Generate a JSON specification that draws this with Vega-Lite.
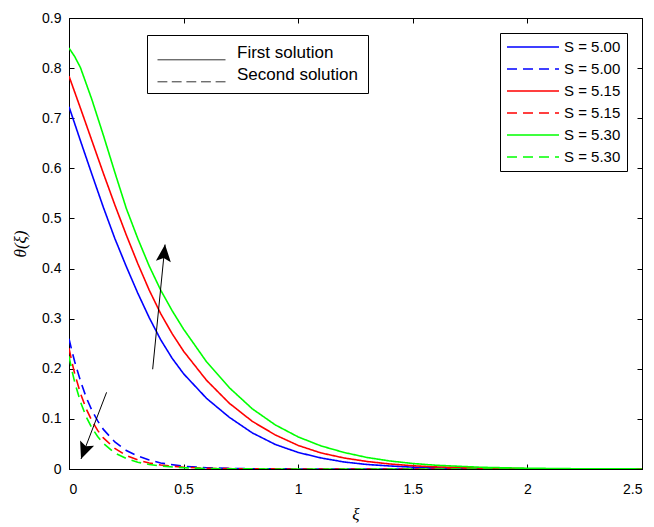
{
  "$schema": "https://vega.github.io/schema/vega-lite/v6.json",
  "width": 573,
  "height": 451,
  "autosize": {"type": "none"},
  "padding": {"left": 69, "top": 18, "right": 12, "bottom": 58},
  "background": "white",
  "config": {
    "view": {"stroke": "black", "strokeWidth": 1},
    "axis": {
      "domainColor": "black", "domainWidth": 1, "tickColor": "black", "tickWidth": 1, "tickSize": -5,
      "grid": false, "labelFont": "Liberation Sans", "labelFontSize": 14, "labelColor": "black",
      "titleFont": "Liberation Serif", "titleFontStyle": "italic", "titleFontWeight": "normal",
      "titleFontSize": 17, "titleColor": "black"
    }
  },
  "datasets": {
    "curves": [
      {"x":0,"y":0.723,"s":"S = 5.00 a"},{"x":0.05,"y":0.655,"s":"S = 5.00 a"},{"x":0.1,"y":0.588,"s":"S = 5.00 a"},{"x":0.15,"y":0.522,"s":"S = 5.00 a"},{"x":0.2,"y":0.46,"s":"S = 5.00 a"},{"x":0.25,"y":0.404,"s":"S = 5.00 a"},{"x":0.3,"y":0.351,"s":"S = 5.00 a"},{"x":0.35,"y":0.302,"s":"S = 5.00 a"},{"x":0.4,"y":0.258,"s":"S = 5.00 a"},{"x":0.45,"y":0.221,"s":"S = 5.00 a"},{"x":0.5,"y":0.19,"s":"S = 5.00 a"},{"x":0.6,"y":0.141,"s":"S = 5.00 a"},{"x":0.7,"y":0.103,"s":"S = 5.00 a"},{"x":0.8,"y":0.072,"s":"S = 5.00 a"},{"x":0.9,"y":0.049,"s":"S = 5.00 a"},{"x":1.0,"y":0.033,"s":"S = 5.00 a"},{"x":1.1,"y":0.022,"s":"S = 5.00 a"},{"x":1.2,"y":0.014,"s":"S = 5.00 a"},{"x":1.3,"y":0.009,"s":"S = 5.00 a"},{"x":1.4,"y":0.006,"s":"S = 5.00 a"},{"x":1.5,"y":0.0037,"s":"S = 5.00 a"},{"x":1.6,"y":0.0023,"s":"S = 5.00 a"},{"x":1.8,"y":0.0009,"s":"S = 5.00 a"},{"x":2.0,"y":0.0003,"s":"S = 5.00 a"},{"x":2.2,"y":0.0001,"s":"S = 5.00 a"},{"x":2.5,"y":0,"s":"S = 5.00 a"},
      {"x":0,"y":0.26,"s":"S = 5.00 b"},{"x":0.0125,"y":0.236,"s":"S = 5.00 b"},{"x":0.025,"y":0.214,"s":"S = 5.00 b"},{"x":0.05,"y":0.176,"s":"S = 5.00 b"},{"x":0.075,"y":0.143,"s":"S = 5.00 b"},{"x":0.1,"y":0.117,"s":"S = 5.00 b"},{"x":0.125,"y":0.096,"s":"S = 5.00 b"},{"x":0.15,"y":0.079,"s":"S = 5.00 b"},{"x":0.2,"y":0.054,"s":"S = 5.00 b"},{"x":0.25,"y":0.037,"s":"S = 5.00 b"},{"x":0.3,"y":0.026,"s":"S = 5.00 b"},{"x":0.35,"y":0.018,"s":"S = 5.00 b"},{"x":0.4,"y":0.012,"s":"S = 5.00 b"},{"x":0.5,"y":0.0055,"s":"S = 5.00 b"},{"x":0.6,"y":0.0026,"s":"S = 5.00 b"},{"x":0.7,"y":0.0012,"s":"S = 5.00 b"},{"x":0.8,"y":0.0006,"s":"S = 5.00 b"},{"x":1.0,"y":0.0001,"s":"S = 5.00 b"},{"x":1.5,"y":0,"s":"S = 5.00 b"},{"x":2.0,"y":0,"s":"S = 5.00 b"},{"x":2.5,"y":0,"s":"S = 5.00 b"},
      {"x":0,"y":0.784,"s":"S = 5.15 a"},{"x":0.05,"y":0.72,"s":"S = 5.15 a"},{"x":0.1,"y":0.655,"s":"S = 5.15 a"},{"x":0.15,"y":0.59,"s":"S = 5.15 a"},{"x":0.2,"y":0.527,"s":"S = 5.15 a"},{"x":0.25,"y":0.467,"s":"S = 5.15 a"},{"x":0.3,"y":0.41,"s":"S = 5.15 a"},{"x":0.35,"y":0.357,"s":"S = 5.15 a"},{"x":0.4,"y":0.31,"s":"S = 5.15 a"},{"x":0.45,"y":0.27,"s":"S = 5.15 a"},{"x":0.5,"y":0.235,"s":"S = 5.15 a"},{"x":0.6,"y":0.177,"s":"S = 5.15 a"},{"x":0.7,"y":0.131,"s":"S = 5.15 a"},{"x":0.8,"y":0.095,"s":"S = 5.15 a"},{"x":0.9,"y":0.068,"s":"S = 5.15 a"},{"x":1.0,"y":0.047,"s":"S = 5.15 a"},{"x":1.1,"y":0.032,"s":"S = 5.15 a"},{"x":1.2,"y":0.022,"s":"S = 5.15 a"},{"x":1.3,"y":0.015,"s":"S = 5.15 a"},{"x":1.4,"y":0.01,"s":"S = 5.15 a"},{"x":1.5,"y":0.0065,"s":"S = 5.15 a"},{"x":1.6,"y":0.0042,"s":"S = 5.15 a"},{"x":1.8,"y":0.0017,"s":"S = 5.15 a"},{"x":2.0,"y":0.0006,"s":"S = 5.15 a"},{"x":2.2,"y":0.0002,"s":"S = 5.15 a"},{"x":2.5,"y":0,"s":"S = 5.15 a"},
      {"x":0,"y":0.241,"s":"S = 5.15 b"},{"x":0.0125,"y":0.214,"s":"S = 5.15 b"},{"x":0.025,"y":0.19,"s":"S = 5.15 b"},{"x":0.05,"y":0.151,"s":"S = 5.15 b"},{"x":0.075,"y":0.12,"s":"S = 5.15 b"},{"x":0.1,"y":0.096,"s":"S = 5.15 b"},{"x":0.125,"y":0.077,"s":"S = 5.15 b"},{"x":0.15,"y":0.062,"s":"S = 5.15 b"},{"x":0.2,"y":0.041,"s":"S = 5.15 b"},{"x":0.25,"y":0.027,"s":"S = 5.15 b"},{"x":0.3,"y":0.018,"s":"S = 5.15 b"},{"x":0.35,"y":0.012,"s":"S = 5.15 b"},{"x":0.4,"y":0.008,"s":"S = 5.15 b"},{"x":0.5,"y":0.0035,"s":"S = 5.15 b"},{"x":0.6,"y":0.0015,"s":"S = 5.15 b"},{"x":0.7,"y":0.0007,"s":"S = 5.15 b"},{"x":0.8,"y":0.0003,"s":"S = 5.15 b"},{"x":1.0,"y":0.0001,"s":"S = 5.15 b"},{"x":1.5,"y":0,"s":"S = 5.15 b"},{"x":2.0,"y":0,"s":"S = 5.15 b"},{"x":2.5,"y":0,"s":"S = 5.15 b"},
      {"x":0,"y":0.84,"s":"S = 5.30 a"},{"x":0.025,"y":0.823,"s":"S = 5.30 a"},{"x":0.05,"y":0.801,"s":"S = 5.30 a"},{"x":0.1,"y":0.737,"s":"S = 5.30 a"},{"x":0.15,"y":0.666,"s":"S = 5.30 a"},{"x":0.2,"y":0.592,"s":"S = 5.30 a"},{"x":0.25,"y":0.52,"s":"S = 5.30 a"},{"x":0.3,"y":0.46,"s":"S = 5.30 a"},{"x":0.35,"y":0.405,"s":"S = 5.30 a"},{"x":0.4,"y":0.357,"s":"S = 5.30 a"},{"x":0.45,"y":0.316,"s":"S = 5.30 a"},{"x":0.5,"y":0.279,"s":"S = 5.30 a"},{"x":0.6,"y":0.214,"s":"S = 5.30 a"},{"x":0.7,"y":0.162,"s":"S = 5.30 a"},{"x":0.8,"y":0.12,"s":"S = 5.30 a"},{"x":0.9,"y":0.088,"s":"S = 5.30 a"},{"x":1.0,"y":0.064,"s":"S = 5.30 a"},{"x":1.1,"y":0.046,"s":"S = 5.30 a"},{"x":1.2,"y":0.033,"s":"S = 5.30 a"},{"x":1.3,"y":0.023,"s":"S = 5.30 a"},{"x":1.4,"y":0.016,"s":"S = 5.30 a"},{"x":1.5,"y":0.011,"s":"S = 5.30 a"},{"x":1.6,"y":0.0075,"s":"S = 5.30 a"},{"x":1.8,"y":0.0034,"s":"S = 5.30 a"},{"x":2.0,"y":0.0015,"s":"S = 5.30 a"},{"x":2.2,"y":0.0006,"s":"S = 5.30 a"},{"x":2.5,"y":0.0001,"s":"S = 5.30 a"},
      {"x":0,"y":0.225,"s":"S = 5.30 b"},{"x":0.0125,"y":0.197,"s":"S = 5.30 b"},{"x":0.025,"y":0.173,"s":"S = 5.30 b"},{"x":0.05,"y":0.134,"s":"S = 5.30 b"},{"x":0.075,"y":0.104,"s":"S = 5.30 b"},{"x":0.1,"y":0.082,"s":"S = 5.30 b"},{"x":0.125,"y":0.065,"s":"S = 5.30 b"},{"x":0.15,"y":0.051,"s":"S = 5.30 b"},{"x":0.2,"y":0.032,"s":"S = 5.30 b"},{"x":0.25,"y":0.021,"s":"S = 5.30 b"},{"x":0.3,"y":0.0135,"s":"S = 5.30 b"},{"x":0.35,"y":0.009,"s":"S = 5.30 b"},{"x":0.4,"y":0.006,"s":"S = 5.30 b"},{"x":0.5,"y":0.0025,"s":"S = 5.30 b"},{"x":0.6,"y":0.001,"s":"S = 5.30 b"},{"x":0.7,"y":0.0004,"s":"S = 5.30 b"},{"x":0.8,"y":0.0002,"s":"S = 5.30 b"},{"x":1.0,"y":0,"s":"S = 5.30 b"},{"x":1.5,"y":0,"s":"S = 5.30 b"},{"x":2.0,"y":0,"s":"S = 5.30 b"},{"x":2.5,"y":0,"s":"S = 5.30 b"}
    ],
    "arrows": [
      {"dir":"up","x":0.365,"y":0.199,"x2":0.419,"y2":0.448},
      {"dir":"down","x":0.164,"y":0.153,"x2":0.0524,"y2":0.02}
    ]
  },
  "layer": [
    {
      "data": {"name": "curves"},
      "mark": {"type": "line", "strokeWidth": 1.6, "clip": true},
      "encoding": {
        "x": {"field": "x", "type": "quantitative", "scale": {"domain": [0, 2.5], "nice": false},
          "axis": {"orient": "bottom", "values": [0, 0.5, 1, 1.5, 2, 2.5], "format": "~g", "title": "ξ", "labelPadding": 18, "titlePadding": 10}},
        "y": {"field": "y", "type": "quantitative", "scale": {"domain": [0, 0.9], "nice": false},
          "axis": {"orient": "left", "values": [0, 0.1, 0.2, 0.3, 0.4, 0.5, 0.6, 0.7, 0.8, 0.9], "format": "~g", "title": "θ(ξ)", "labelPadding": 13, "titlePadding": 12}},
        "color": {"field": "s", "type": "nominal",
          "scale": {"domain": ["S = 5.00 a", "S = 5.00 b", "S = 5.15 a", "S = 5.15 b", "S = 5.30 a", "S = 5.30 b"],
                    "range": ["#0000ff", "#0000ff", "#ff0000", "#ff0000", "#00ff00", "#00ff00"]},
          "legend": {"title": null, "orient": "top-right", "offset": 15, "strokeColor": "black", "fillColor": "white",
            "padding": 6, "cornerRadius": 0, "symbolType": "stroke", "symbolSize": 2704, "symbolStrokeWidth": 1.6,
            "clipHeight": 16, "rowPadding": 6, "labelFont": "Liberation Sans", "labelFontSize": 15, "labelColor": "black",
            "labelOffset": 4, "labelExpr": "slice(datum.label, 0, 8)"}},
        "strokeDash": {"field": "s", "type": "nominal",
          "scale": {"domain": ["S = 5.00 a", "S = 5.00 b", "S = 5.15 a", "S = 5.15 b", "S = 5.30 a", "S = 5.30 b"],
                    "range": [[1, 0], [10, 6], [1, 0], [10, 6], [1, 0], [10, 6]]},
          "legend": {"title": null, "orient": "top-right", "offset": 15, "strokeColor": "black", "fillColor": "white",
            "padding": 6, "cornerRadius": 0, "symbolType": "stroke", "symbolSize": 2704, "symbolStrokeWidth": 1.6,
            "clipHeight": 16, "rowPadding": 6, "labelFont": "Liberation Sans", "labelFontSize": 15, "labelColor": "black",
            "labelOffset": 4, "labelExpr": "slice(datum.label, 0, 8)"}}
      }
    },
    {
      "data": {"name": "curves"},
      "transform": [{"filter": "false"}],
      "mark": {"type": "point", "filled": false, "color": "black", "opacity": 1, "strokeWidth": 1},
      "encoding": {
        "x": {"field": "x", "type": "quantitative", "axis": {"orient": "top", "labels": false, "title": null, "values": [0, 0.5, 1, 1.5, 2, 2.5]}},
        "y": {"field": "y", "type": "quantitative", "axis": {"orient": "right", "labels": false, "title": null, "values": [0, 0.1, 0.2, 0.3, 0.4, 0.5, 0.6, 0.7, 0.8, 0.9]}},
        "shape": {"field": "sol", "type": "nominal",
          "scale": {"domain": ["First solution", "Second solution"],
                    "range": ["M-1,0.2L1,0.2", "M-1,0.2L-0.71,0.2M-0.58,0.2L-0.29,0.2M-0.15,0.2L0.14,0.2M0.28,0.2L0.57,0.2M0.71,0.2L1,0.2"]},
          "legend": {"title": null, "orient": "none", "legendX": 78, "legendY": 17, "strokeColor": "black", "fillColor": "white",
            "padding": 10, "cornerRadius": 0, "symbolSize": 4624, "symbolStrokeWidth": 1, "symbolFillColor": "transparent",
            "symbolStrokeColor": "#333333", "symbolOpacity": 1, "clipHeight": 16, "rowPadding": 5, "labelFont": "Liberation Sans", "labelFontSize": 17,
            "labelColor": "black", "labelOffset": 11, "labelExpr": "datum.label + '\u00a0\u00a0\u00a0\u00a0\u00a0\u00a0\u00a0'"}}
      }
    },
    {
      "data": {"name": "arrows"},
      "mark": {"type": "rule", "color": "black", "strokeWidth": 1},
      "encoding": {
        "x": {"field": "x", "type": "quantitative", "axis": null},
        "y": {"field": "y", "type": "quantitative", "axis": null},
        "x2": {"field": "x2"},
        "y2": {"field": "y2"}
      }
    },
    {
      "data": {"name": "arrows"},
      "transform": [{"filter": "datum.dir == 'up'"}],
      "mark": {"type": "point", "shape": "M0,0L-0.44,1L0,0.8L0.44,1Z", "filled": true, "color": "black", "opacity": 1, "strokeWidth": 0, "size": 1156, "angle": 5.6},
      "encoding": {
        "x": {"field": "x2", "type": "quantitative", "axis": null},
        "y": {"field": "y2", "type": "quantitative", "axis": null}
      }
    },
    {
      "data": {"name": "arrows"},
      "transform": [{"filter": "datum.dir == 'down'"}],
      "mark": {"type": "point", "shape": "M0,0L-0.44,1L0,0.8L0.44,1Z", "filled": true, "color": "black", "opacity": 1, "strokeWidth": 0, "size": 1156, "angle": 201},
      "encoding": {
        "x": {"field": "x2", "type": "quantitative", "axis": null},
        "y": {"field": "y2", "type": "quantitative", "axis": null}
      }
    }
  ],
  "resolve": {"axis": {"x": "independent", "y": "independent"}}
}
